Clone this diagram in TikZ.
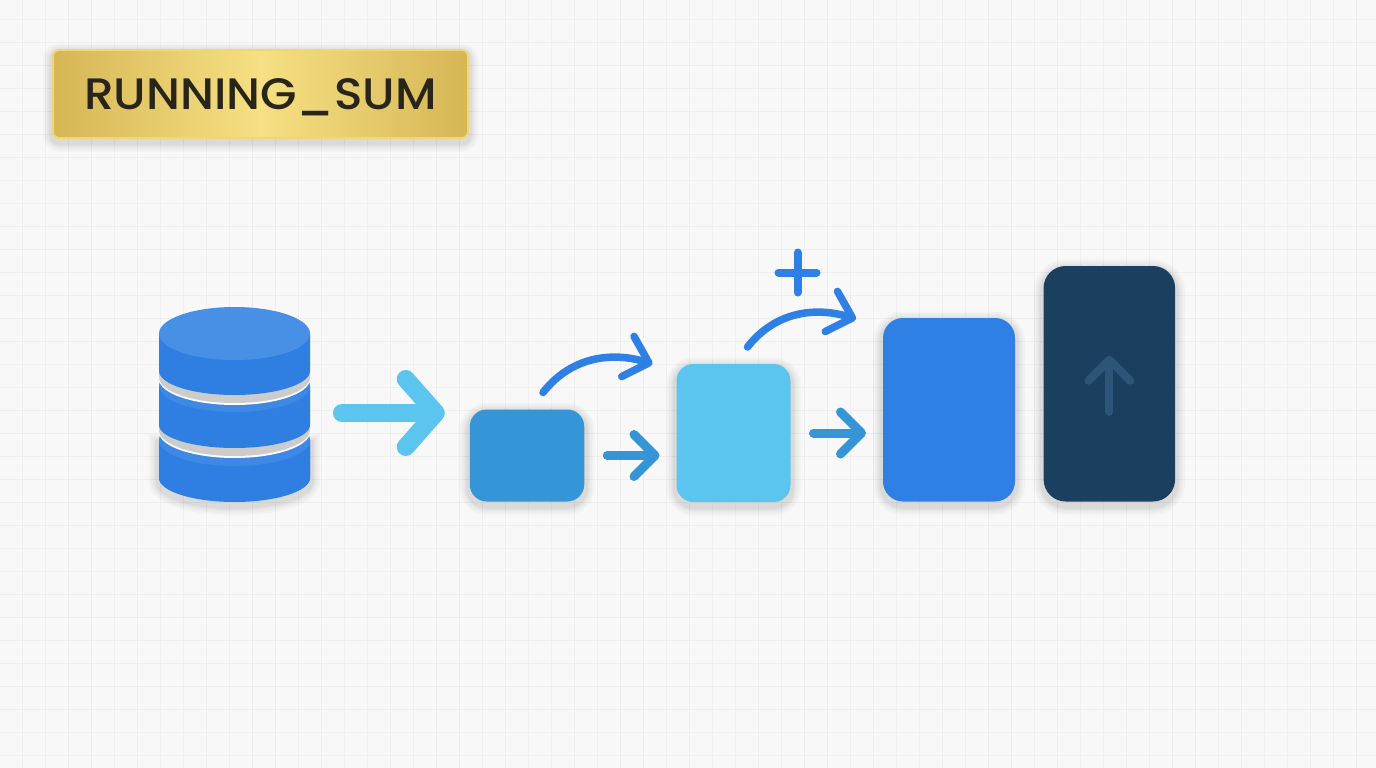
\documentclass[tikz,border=0pt]{standalone}
\usepackage{fontspec}
\setmainfont{Poppins}[UprightFont=* Medium, FakeStretch=1.07]
\usetikzlibrary{arrows.meta}
\definecolor{paper}{HTML}{F8F8F8}
\definecolor{gridgray}{HTML}{EEEEEE}
\definecolor{goldedge}{HTML}{D6B655}
\definecolor{goldmid}{HTML}{F6E083}
\definecolor{goldrim}{HTML}{EFD777}
\definecolor{inkdark}{HTML}{2A2519}
\definecolor{dbside}{HTML}{2F7FE3}
\definecolor{dbtop}{HTML}{4890E6}
\definecolor{dbrim}{HTML}{3D89E5}
\definecolor{midblue}{HTML}{3595D6}
\definecolor{skyblue}{HTML}{5BC4EF}
\definecolor{royalblue}{HTML}{2F80E4}
\definecolor{navyblue}{HTML}{1A3F5F}
\definecolor{navyarrow}{HTML}{2D5479}
\tikzset{
  softlayer/.style={preaction={draw=black, opacity=.022, line width=#1, transform canvas={yshift=-3.5pt}}},
  softshadow/.style={softlayer=20pt, softlayer=16pt, softlayer=12pt, softlayer=9pt, softlayer=7pt},
  gridline/.style={line width=1pt, color=gridgray},
  badge/.style={draw=goldrim, line width=2pt, left color=goldedge, right color=goldedge, middle color=goldmid, rounded corners=6pt, minimum width=415pt, minimum height=88pt, inner sep=0pt, outer sep=0pt, text=inkdark, text height=31pt, text depth=0pt, softshadow},
  bar/.style={inner sep=0pt, outer sep=0pt, softshadow},
  flow/.style={line width=9pt, line cap=round, color=midblue, -{Straight Barb[length=21pt, width=42pt, round]}},
  bigflow/.style={line width=18pt, line cap=round, color=skyblue, -{Straight Barb[length=30pt, width=68pt, round]}},
  arcflow/.style={line width=7.5pt, line cap=round, color=royalblue, -{Straight Barb[length=22pt, width=42pt, round]}},
  gapwhite/.style={fill=paper!60!white},
  gapgray/.style={fill=black!20}
}
\begin{document}
\begin{tikzpicture}[x=1pt, y=1pt]
\useasboundingbox (0,0) rectangle (1376,-768);
\fill[paper] (0,0) rectangle (1376,-768);
\foreach \i in {0,...,59}{
    \draw[gridline] (23*\i-0.3,0) -- (23*\i-0.3,-768);
}
\foreach \i in {0,...,33}{
    \draw[gridline] (0,-19.3-23*\i) -- (1376,-19.3-23*\i);
}
\node[badge] (title) at (260.5,-94) {\fontsize{44}{44}\selectfont RUNNING\_SUM};

\fill[dbside, softshadow] (159,-440) -- (159,-478) arc[start angle=180, end angle=360, x radius=75.5, y radius=24] -- (310,-440) -- cycle;
\foreach \ty/\by/\gy in {440/478/432, 386/425/379}{
    \fill[dbside] (159,-\ty) -- (159,-\by) arc[start angle=180, end angle=360, x radius=75.5, y radius=23] -- (310,-\ty) -- cycle;
    \fill[dbrim] (234.5,-\ty) circle [x radius=75.5, y radius=26];
    \fill[gapwhite] (159,-\gy+8) -- (159,-\gy) arc[start angle=180, end angle=360, x radius=75.5, y radius=26] -- (310,-\gy+8) -- cycle;
    \fill[gapgray] (159,-\gy+8) -- (159,-\gy+2) arc[start angle=180, end angle=360, x radius=75.5, y radius=26] -- (310,-\gy+8) -- cycle;
}
\fill[dbside] (159,-333.5) -- (159,-371) arc[start angle=180, end angle=360, x radius=75.5, y radius=24] -- (310,-333.5) -- cycle;
\fill[dbtop] (234.5,-333.5) circle [x radius=75.5, y radius=26.5];
\coordinate (db) at (310,-413);

\node[bar, fill=midblue, rounded corners=17pt, minimum width=114.5pt, minimum height=92pt] (box1) at (527,-455.5) {};
\node[bar, fill=skyblue, rounded corners=17pt, minimum width=114pt, minimum height=138pt] (box2) at (733.5,-433) {};
\node[bar, fill=royalblue, rounded corners=20pt, minimum width=132pt, minimum height=183.5pt] (box3) at (949,-409.75) {};
\node[bar, fill=navyblue, rounded corners=22pt, minimum width=131.5pt, minimum height=235.5pt] (box4) at (1109.35,-383.75) {};

\draw[bigflow, shorten <=32pt, shorten >=25pt] (db) -- (box1.west |- db);
\draw[flow, yshift=4.5pt, shorten <=23pt, shorten >=17pt] (box1.east) -- (box2.west |- box1.east);
\draw[flow, shorten <=23pt, shorten >=17pt] (box2.east) -- (box3.west |- box2.east);
\draw[arcflow] ([shift={(16,17)}]box1.north) to[out=52, in=163] ([xshift=-24pt]box2.north west);
\draw[arcflow] ([shift={(14,17)}]box2.north) to[out=52, in=163] ([shift={(-27,-1)}]box3.north west);
\coordinate (plus) at (797.5,-272.5);
\draw[line width=8pt, line cap=round, color=royalblue] ([xshift=-19pt]plus) -- ([xshift=19pt]plus);
\draw[line width=8pt, line cap=round, color=royalblue] ([yshift=20pt]plus) -- ([yshift=-20pt]plus);
\draw[line width=8pt, line cap=round, color=navyarrow, -{Straight Barb[length=21pt, width=42pt, round]}] ([yshift=-28pt]box4.center) -- ([yshift=28pt]box4.center);
\end{tikzpicture}
\end{document}
